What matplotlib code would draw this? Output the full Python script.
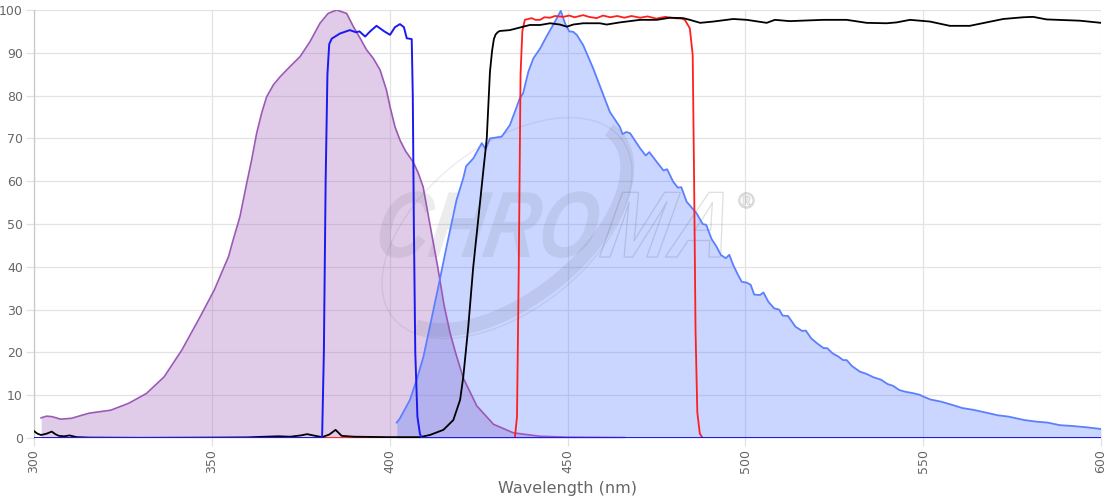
import matplotlib
matplotlib.use("Agg")
import matplotlib.pyplot as plt
from matplotlib.patches import PathPatch, Arc
from matplotlib.textpath import TextPath
from matplotlib.font_manager import FontProperties
from matplotlib.transforms import Affine2D

# ---------------- data ----------------
exc_nm = [302.0, 303.5, 305.0, 307.5, 310.5, 315.5, 321.6, 326.6, 331.6, 336.6, 341.6, 346.7,
          350.7, 354.7, 356.0, 357.9, 359.8, 361.2, 362.6, 364.0, 365.4, 367.3, 369.2, 372.0,
          374.8, 377.6, 380.4, 382.7, 385.1, 387.9, 389.8, 391.7, 393.5, 395.4, 397.3, 399.1,
          400.1, 401.5, 402.9, 404.5, 406.6, 408.0, 409.4, 411.3, 413.5, 415.3, 417.0, 418.5,
          420.7, 424.5, 429.2, 434.8, 442.3, 450.0, 466.0]
exc_val = [4.7, 5.1, 5.0, 4.4, 4.6, 5.8, 6.5, 8.1, 10.4, 14.3, 20.6, 28.3,
           34.6, 42.4, 46.3, 51.7, 59.5, 65.0, 71.2, 75.9, 79.7, 82.5, 84.4, 86.8,
           89.1, 92.6, 96.9, 99.2, 100.0, 99.2, 96.1, 93.4, 90.7, 88.7, 86.0, 81.3,
           77.4, 72.7, 69.6, 67.0, 64.5, 62.0, 58.7, 50.0, 40.0, 31.0, 24.5, 20.0,
           14.0, 7.5, 3.2, 1.2, 0.4, 0.2, 0.1]

em_nm = [402.0, 402.9, 405.7, 407.6, 409.5, 411.3, 413.7, 416.0, 418.8, 420.7, 421.5, 423.5,
         425.9, 427.0, 428.2, 431.5, 433.8, 435.2, 436.6, 437.5, 439.0, 440.4, 442.3, 444.1,
         446.5, 448.1, 449.3, 450.5, 451.6, 452.6, 454.4, 457.2, 460.1, 461.9, 464.7, 465.5,
         466.5, 467.6, 470.4, 472.0, 473.0, 475.0, 477.0, 478.0, 479.7, 481.0, 482.0, 483.5,
         486.3, 488.0, 489.0, 490.5, 491.9, 493.1, 494.5, 495.5, 496.6, 498.0, 499.0, 500.4,
         501.5, 502.5, 504.1, 505.1, 506.5, 508.1, 509.5, 510.5, 512.0, 514.1, 516.0, 517.0,
         518.5, 520.2, 522.0, 523.0, 524.5, 526.2, 527.5, 528.5, 530.0, 532.2, 534.0, 536.0,
         538.2, 540.0, 541.5, 543.3, 545.0, 547.0, 549.0, 550.0, 552.0, 555.0, 558.3, 561.0,
         564.0, 568.4, 571.0, 574.0, 578.4, 582.0, 585.0, 588.4, 592.0, 596.0, 600.0]
em_val = [3.6, 4.6, 8.9, 13.6, 19.0, 26.0, 35.4, 44.7, 55.6, 60.7, 63.5, 65.3,
          68.9, 67.5, 70.0, 70.4, 73.1, 76.2, 79.4, 80.5, 85.6, 88.7, 91.0, 93.8,
          97.3, 99.8, 96.9, 95.0, 94.9, 94.2, 91.8, 86.4, 80.1, 76.2, 72.7, 71.0,
          71.5, 71.2, 67.7, 66.0, 66.8, 64.6, 62.5, 62.8, 59.9, 58.5, 58.6, 55.2,
          52.5, 50.0, 49.8, 46.5, 44.7, 42.8, 42.0, 42.8, 40.4, 38.0, 36.5, 36.3,
          35.8, 33.5, 33.4, 34.0, 31.8, 30.3, 30.0, 28.6, 28.5, 26.0, 25.0, 25.1,
          23.3, 22.1, 21.0, 21.0, 19.8, 19.0, 18.2, 18.2, 16.8, 15.5, 15.0, 14.2,
          13.6, 12.6, 12.2, 11.2, 10.8, 10.5, 10.1, 9.7, 9.0, 8.5, 7.7, 7.0,
          6.6, 5.8, 5.3, 5.0, 4.2, 3.8, 3.6, 3.0, 2.8, 2.5, 2.1]

exf_nm = [300.0, 381.0, 381.5, 382.0, 382.5, 383.0, 383.7, 386.0, 388.8, 390.5, 391.5, 393.1,
          394.5, 396.3, 398.5, 400.1, 401.5, 402.9, 404.0, 404.8, 406.2, 406.5, 406.8, 407.2,
          407.8, 408.5, 409.0, 600.0]
exf_val = [0.0, 0.0, 20.0, 60.0, 85.0, 92.0, 93.3, 94.5, 95.3, 94.8, 95.0, 93.8,
           95.0, 96.3, 95.0, 94.2, 96.0, 96.7, 96.0, 93.4, 93.2, 80.0, 50.0, 20.0,
           5.0, 1.0, 0.0, 0.0]

emf_nm = [300.0, 435.2, 435.8, 436.3, 436.8, 437.3, 438.0, 439.9, 441.0, 442.3, 443.5, 445.1,
          446.5, 448.8, 450.5, 452.0, 454.4, 456.0, 458.2, 460.0, 462.0, 464.0, 466.0, 468.0,
          470.4, 472.5, 475.0, 477.5, 479.7, 482.0, 483.0, 484.4, 485.2, 485.6, 486.0, 486.5,
          487.2, 488.0, 600.0]
emf_val = [0.0, 0.0, 5.0, 40.0, 85.0, 95.0, 97.7, 98.1, 97.7, 97.7, 98.3, 98.2,
           98.6, 98.4, 98.7, 98.3, 98.8, 98.4, 98.1, 98.7, 98.3, 98.6, 98.2, 98.6,
           98.2, 98.5, 98.0, 98.4, 98.1, 98.0, 97.7, 95.7, 89.5, 60.0, 25.0, 6.0,
           1.0, 0.0, 0.0]

dic_nm = [300.0, 301.0, 302.0, 303.5, 305.0, 306.0, 307.0, 308.5, 310.0, 312.0, 315.5, 330.0,
          350.0, 360.0, 365.0, 368.8, 372.0, 375.0, 376.8, 378.5, 381.0, 383.0, 384.8, 386.5,
          390.0, 400.0, 408.5, 411.3, 415.1, 417.9, 419.8, 420.7, 422.1, 423.5, 425.4, 426.3,
          427.3, 428.2, 428.8, 429.3, 429.8, 430.5, 431.0, 433.8, 436.6, 439.4, 442.3, 445.1,
          447.9, 449.8, 451.6, 454.4, 459.1, 461.0, 464.7, 470.4, 475.1, 478.8, 482.5, 484.4,
          487.3, 491.0, 496.6, 500.4, 506.0, 508.3, 512.5, 521.9, 528.5, 534.1, 539.7, 542.5,
          546.3, 551.9, 557.5, 563.1, 567.8, 572.5, 578.1, 580.9, 584.7, 594.1, 600.0]
dic_val = [1.6, 1.0, 0.7, 1.0, 1.5, 0.9, 0.5, 0.4, 0.6, 0.2, 0.1, 0.05,
           0.1, 0.15, 0.3, 0.4, 0.3, 0.6, 0.9, 0.6, 0.2, 0.8, 1.9, 0.5,
           0.3, 0.2, 0.2, 0.7, 1.9, 4.2, 8.9, 14.3, 26.0, 40.0, 55.0, 62.2,
           70.0, 85.6, 90.5, 93.2, 94.3, 94.9, 95.1, 95.3, 95.9, 96.5, 96.5, 96.9,
           96.6, 96.1, 96.6, 96.9, 96.9, 96.6, 97.1, 97.7, 97.7, 98.2, 98.1, 97.7,
           97.0, 97.3, 97.9, 97.7, 97.0, 97.7, 97.4, 97.7, 97.7, 97.0, 96.9, 97.1,
           97.7, 97.3, 96.3, 96.3, 97.1, 97.9, 98.3, 98.4, 97.8, 97.5, 97.0]

x_ticks = [300, 350, 400, 450, 500, 550, 600]
y_ticks = [0, 10, 20, 30, 40, 50, 60, 70, 80, 90, 100]
x_label = "Wavelength (nm)"

# ---------------- figure ----------------
W, H = 1120, 500
fig = plt.figure(figsize=(W / 100, H / 100), dpi=100)
L, R, T, B = 34, 1101, 10, 438
ax = fig.add_axes([L / W, 1 - B / H, (R - L) / W, (B - T) / H])

purple = "#9b59b6"
emc = "#5b7fff"

ax.fill_between(exc_nm, exc_val, 0, color=purple, alpha=0.3, linewidth=0, zorder=2)
ax.fill_between(em_nm, em_val, 0, color="#5078ff", alpha=0.3, linewidth=0, zorder=2.1)
ax.plot(exc_nm, exc_val, color=purple, lw=1.2, zorder=3)
ax.plot(em_nm, em_val, color=emc, lw=1.3, zorder=3.1)
ax.plot(emf_nm, emf_val, color="#ff1f1f", lw=1.3, zorder=3.2)
ax.plot(dic_nm, dic_val, color="#000000", lw=1.3, zorder=3.3)
ax.plot(exf_nm, exf_val, color="#1a1af0", lw=1.4, zorder=3.4)

ax.set_xlim(300, 600)
ax.set_ylim(0, 100)
ax.set_xticks(x_ticks)
ax.set_yticks(y_ticks)
ax.set_xticklabels([str(v) for v in x_ticks], rotation=90)
ax.grid(True, color="#e3e3e3", lw=0.9, zorder=0)
ax.set_axisbelow(True)
for s in ["top", "right", "bottom"]:
    ax.spines[s].set_visible(False)
ax.spines["left"].set_color("#c8c8c8")
ax.spines["left"].set_linewidth(0.9)
ax.tick_params(axis="both", colors="#e0e0e0", labelcolor="#666666", labelsize=9,
               length=6, width=0.9, pad=2)
ax.set_xlabel(x_label, color="#666666", fontsize=11.5, labelpad=6)

# ---------------- watermark ----------------
wm = (0.3, 0.3, 0.35, 0.10)
fp = FontProperties(family="Liberation Sans", weight="bold", style="italic")
def place_text(s, x_img, base_img, size, sx, skew, fc, ec, lw):
    tp = TextPath((0, 0), s, size=size, prop=fp)
    tr = Affine2D().skew_deg(skew, 0).scale(sx, 1.0).translate(x_img, H - base_img)
    p = PathPatch(tp, facecolor=fc, edgecolor=ec, lw=lw, zorder=2.5)
    p.set_transform(tr)
    ax.add_patch(p)

place_text("CHRO", 372, 257, 94, 0.80, 12, wm, "none", 0)
place_text("MA", 598, 257, 94, 0.88, 12, "none", (0.3, 0.3, 0.3, 0.18), 0.9)
place_text("\u00ae", 738, 208, 22, 1.0, 0, "none", (0.3, 0.3, 0.3, 0.22), 0.8)

cx, cy = 507, H - 228
arc_thin = Arc((cx, cy), 290, 165, angle=38, theta1=0, theta2=360,
               color=(0.3, 0.3, 0.3, 0.10), lw=1.0, zorder=2.4)
arc_thin.set_transform(Affine2D())
ax.add_patch(arc_thin)
arc_thick = Arc((cx, cy + 3), 282, 150, angle=38, theta1=190, theta2=5,
                color=(0.3, 0.3, 0.4, 0.11), lw=10, zorder=2.4)
arc_thick.set_transform(Affine2D())
ax.add_patch(arc_thick)

fig.savefig("out.png", dpi=100)
